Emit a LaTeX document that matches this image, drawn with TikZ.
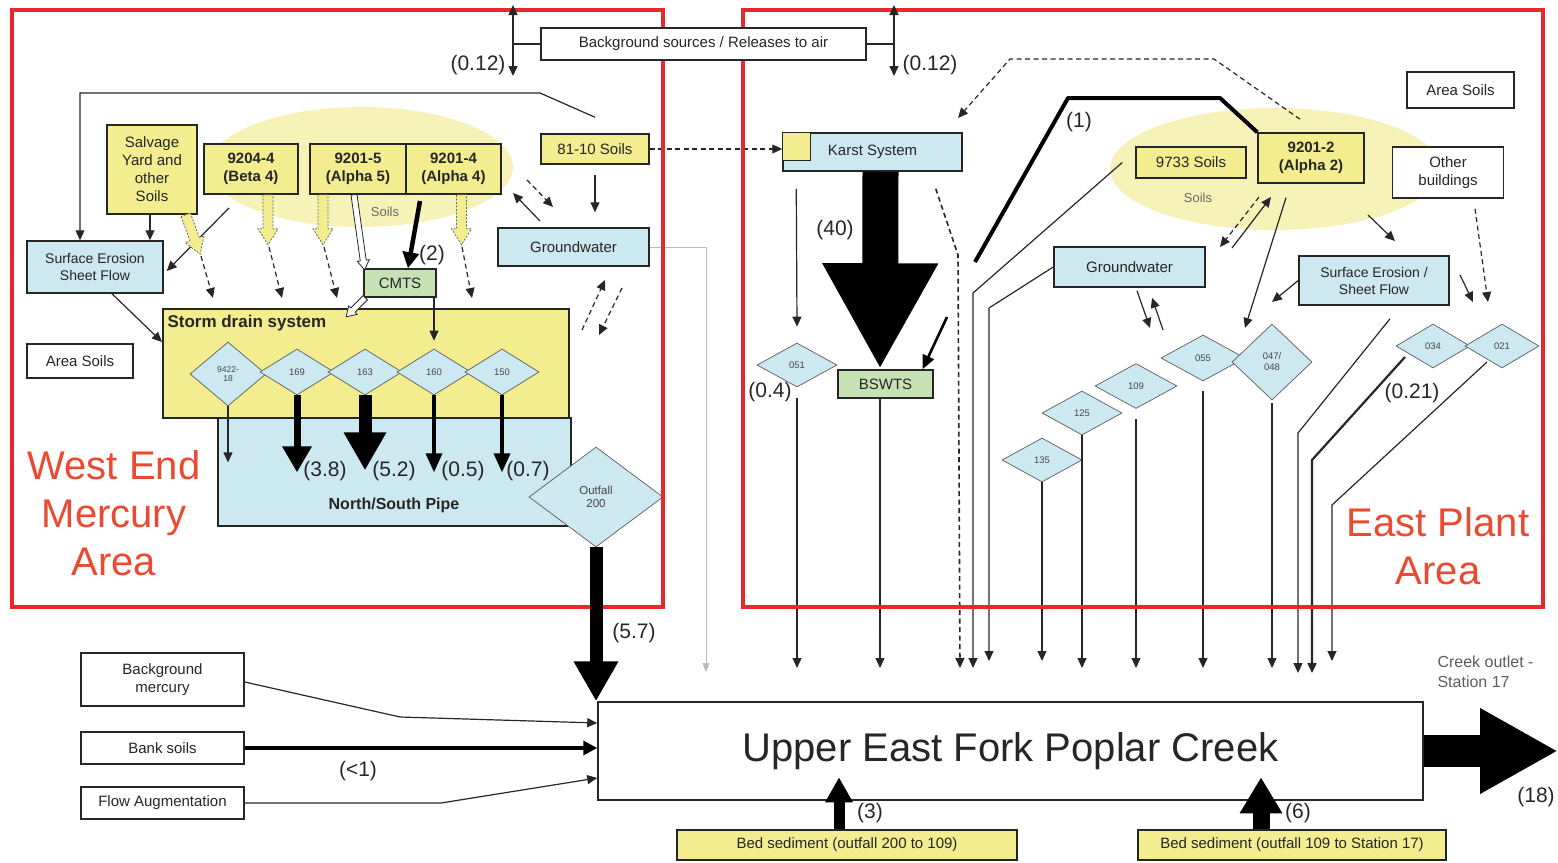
\documentclass[tikz,border=0pt]{standalone}
\usepackage{fontspec}
\setmainfont{Liberation Sans}
\usetikzlibrary{arrows.meta,shapes.geometric}

\definecolor{boxyellow}{HTML}{F3ED8F}
\definecolor{soilyellow}{HTML}{F7F3B8}
\definecolor{waterblue}{HTML}{CCE8F0}
\definecolor{plantgreen}{HTML}{C6E2B4}
\definecolor{framered}{HTML}{E8282B}
\definecolor{areared}{HTML}{EA4A30}
\definecolor{ink}{HTML}{262626}

\newcommand{\fz}[2]{\fontsize{#1}{#2}\selectfont}
% block arrow: style, start point, rotation, length, half shaft width, half head width
\newcommand{\fatarrow}[6]{%
  \begin{scope}[shift={#2},rotate=#3]
    \path[#1] (-#5,0) -- (-#5,{#4-1.6*#6}) -- (-#6,{#4-1.6*#6}) -- (0,#4)
      -- (#6,{#4-1.6*#6}) -- (#5,{#4-1.6*#6}) -- (#5,0) -- cycle;
  \end{scope}}

\tikzset{
  box/.style={draw=ink, line width=1.5pt, inner sep=2pt, align=center, text=ink, font=\fz{15}{18}},
  ybox/.style={box, fill=boxyellow},
  bbox/.style={box, fill=waterblue},
  gbox/.style={box, fill=plantgreen},
  wbox/.style={box, fill=white},
  heavy/.style={font=\bfseries\fz{15}{18}},
  outfall/.style={diamond, draw=ink!75, line width=0.7pt, fill=waterblue, inner sep=0pt,
    align=center, text=ink!85, font=\fz{9.5}{11}},
  flux/.style={text=ink, font=\fz{21}{24}, inner sep=1pt},
  ln/.style={draw=ink, line width=1.2pt},
  ar/.style={ln, -{Triangle[length=10pt,width=9pt]}},
  dar/.style={ar, dash pattern=on 5pt off 3.5pt},
  bulk/.style={draw=black},
  yfat/.style={fill=boxyellow, draw=ink!70, line width=0.8pt, dash pattern=on 2pt off 1.5pt},
  wfat/.style={fill=white, draw=ink, line width=0.8pt},
  areaname/.style={text=areared, font=\fz{40}{48}, align=center},
  frame/.style={draw=framered, line width=4pt},
}

\begin{document}
\begin{tikzpicture}[x=1pt,y=-1pt]
\useasboundingbox (0,0) rectangle (1558,862);

% soil zones
\fill[soilyellow] (361,167) ellipse [x radius=152pt, y radius=60pt];
\fill[soilyellow] (1275,169) ellipse [x radius=165pt, y radius=61pt];
\node[text=ink!70, font=\fz{13}{15}] (soilW) at (385,212) {Soils};
\node[text=ink!70, font=\fz{13}{15}] (soilE) at (1198,198) {Soils};

% ---------------- West End ----------------
\node[ybox, minimum width=90pt, minimum height=89pt] (salv) at (152,169.5) {Salvage\\Yard and\\other\\Soils};
\node[ybox, heavy, minimum width=94pt, minimum height=50pt] (b4) at (251,169) {9204-4\\(Beta 4)};
\node[ybox, heavy, minimum width=96pt, minimum height=50pt] (a5) at (358,169) {9201-5\\(Alpha 5)};
\node[ybox, heavy, minimum width=95pt, minimum height=50pt] (a4) at (453.5,169) {9201-4\\(Alpha 4)};
\node[ybox, minimum width=108pt, minimum height=30pt] (s8110) at (595,149) {81-10 Soils};
\node[bbox, minimum width=151pt, minimum height=38pt] (gwW) at (573.5,247) {Groundwater};
\node[bbox, font=\fz{14}{17}, minimum width=136pt, minimum height=52pt] (seW) at (95,267) {Surface Erosion\\Sheet Flow};
\node[wbox, minimum width=106pt, minimum height=34pt] (asW) at (80,361) {Area Soils};
\node[gbox, minimum width=72pt, minimum height=28pt] (cmts) at (400,283) {CMTS};
\node[bbox, anchor=north west, minimum width=353pt, minimum height=108pt] (pipe) at (217,417) {};
\node[ybox, anchor=north west, minimum width=406pt, minimum height=109pt] (drain) at (162,308) {};
\node[anchor=west, text=ink, font=\bfseries\fz{17}{20}] (drainlab) at (164,323) {Storm drain system};
\node[text=ink, font=\bfseries\fz{16}{19}] (pipelab) at (394,505) {North/South Pipe};

\node[outfall, minimum width=76pt, minimum height=64pt, font=\fz{8.5}{9.5}] (d9422) at (228,374) {9422-\\18};
\node[outfall, minimum width=74pt, minimum height=46pt] (d169) at (297,372) {169};
\node[outfall, minimum width=74pt, minimum height=46pt] (d163) at (365,372) {163};
\node[outfall, minimum width=74pt, minimum height=46pt] (d160) at (434,372) {160};
\node[outfall, minimum width=74pt, minimum height=46pt] (d150) at (502,372) {150};
\node[outfall, minimum width=134pt, minimum height=100pt, font=\fz{11.5}{13}] (out200) at (596,497) {Outfall\\200};

% ---------------- East Plant ----------------
\node[bbox, minimum width=179pt, minimum height=38pt] (karst) at (872.5,152) {Karst System};
\node[ybox, line width=1pt, anchor=north west, minimum width=28pt, minimum height=28pt] (ksq) at (karst.north west) {};
\node[gbox, minimum width=95pt, minimum height=28pt] (bsw) at (885.5,384) {BSWTS};
\node[ybox, minimum width=110pt, minimum height=31pt] (s9733) at (1191,162.5) {9733 Soils};
\node[ybox, heavy, minimum width=106pt, minimum height=50pt] (a2) at (1311,158) {9201-2\\(Alpha 2)};
\node[wbox, minimum width=111pt, minimum height=51pt] (oth) at (1448,172.5) {Other\\buildings};
\node[wbox, minimum width=107pt, minimum height=36pt] (asE) at (1460.5,90) {Area Soils};
\node[bbox, minimum width=151pt, minimum height=40pt] (gwE) at (1129.5,267) {Groundwater};
\node[bbox, font=\fz{14}{17}, minimum width=150pt, minimum height=49pt] (seE) at (1374,280.5) {Surface Erosion /\\Sheet Flow};

\node[outfall, minimum width=80pt, minimum height=44pt] (d051) at (797,365) {051};
\node[outfall, minimum width=80pt, minimum height=44pt] (d135) at (1042,460) {135};
\node[outfall, minimum width=80pt, minimum height=44pt] (d125) at (1082,413) {125};
\node[outfall, minimum width=82pt, minimum height=45pt] (d109) at (1136,386) {109};
\node[outfall, minimum width=84pt, minimum height=46pt] (d055) at (1203,358) {055};
\node[outfall, minimum width=80pt, minimum height=76pt] (d047) at (1272,362) {047/\\048};
\node[outfall, minimum width=74pt, minimum height=44pt] (d034) at (1433,346) {034};
\node[outfall, minimum width=74pt, minimum height=44pt] (d021) at (1502,346) {021};

% karst discharge to the treatment system
\draw[bulk, line width=36pt, -{Triangle[length=106pt,width=108pt]}] ([xshift=8pt]karst.south) -- ([xshift=-5.5pt]bsw.north);

% ---------------- creek and outside sources ----------------
\node[wbox, font=\fz{40}{46}, minimum width=825pt, minimum height=98pt] (creek) at (1010.5,751) {Upper East Fork Poplar Creek};
\node[wbox, minimum width=163pt, minimum height=53pt] (bgm) at (162.5,679.5) {Background\\mercury};
\node[wbox, minimum width=163pt, minimum height=32pt] (bank) at (162.5,748) {Bank soils};
\node[wbox, minimum width=163pt, minimum height=32pt] (flow) at (162.5,803) {Flow Augmentation};
\node[ybox, minimum width=340pt, minimum height=30pt] (bed1) at (847,845) {Bed sediment (outfall 200 to 109)};
\node[ybox, minimum width=308pt, minimum height=30pt] (bed2) at (1292,845) {Bed sediment (outfall 109 to Station 17)};

\coordinate (tipA) at (0,668);
\coordinate (tipC) at (0,661);

% ---------------- west connectors ----------------
\draw[ar] ([yshift=16pt]s8110.north) -- (540,93) -- (80,93) -- ([xshift=-15pt]seW.north);
\draw[ar] ([xshift=-2pt]salv.south) -- ([xshift=55pt]seW.north);
\draw[ar] (229,208) -- ([shift={(3pt,-4pt)}]seW.east);
\draw[ar] ([xshift=17pt]seW.south) -- ([yshift=-34pt]drain.north west);

\fatarrow{yfat}{([xshift=-12pt]salv.south east)}{20}{42}{5}{10}
\fatarrow{yfat}{([xshift=17pt]b4.south)}{0}{50}{5}{10}
\fatarrow{yfat}{([xshift=-35pt]a5.south)}{0}{50}{5}{10}
\fatarrow{yfat}{([xshift=8pt]a4.south)}{0}{50}{5}{10}
\draw[dar] (201,256) -- (213,298);
\draw[dar] (269,247) -- (282,298);
\draw[dar] (324,247) -- (337,298);
\draw[dar] (462,247) -- (472,298);

\fatarrow{wfat}{([xshift=-4pt]a5.south)}{8}{76}{3}{6}
\fatarrow{wfat}{([xshift=2pt]cmts.south west)}{-45}{27}{3}{6}
\draw[bulk, line width=4.5pt, -{Triangle[length=16pt,width=16pt]}] (420,201) -- ([xshift=8pt]cmts.north);
\draw[ar] ([xshift=34pt]cmts.south) -- ([yshift=8pt]d160.north);

\draw[ar] ([yshift=-10pt]s8110.south) -- ([shift={(21.5pt,15pt)}]gwW.north);
\draw[dar] (527,180) -- (553,207);
\draw[ar] (540,221) -- (513,193);
\draw[dar] (582,330) -- (605,280);
\draw[dar] (622,288) -- (599,335);
\draw[draw=gray!55, line width=0.6pt, -{Triangle[length=9pt,width=7pt]}] (gwW.east) -- (706,247) -- (706,672);

\draw[ar] (d9422.south) -- ([yshift=-56pt]d9422.south);
\draw[bulk, line width=7pt, -{Triangle[length=26pt,width=28pt]}] (d169.south) -- ([yshift=-77pt]d169.south);
\draw[bulk, line width=13pt, -{Triangle[length=38pt,width=40pt]}] (d163.south) -- ([yshift=-75pt]d163.south);
\draw[bulk, line width=3.5pt, -{Triangle[length=19pt,width=16pt]}] (d160.south) -- ([yshift=-77pt]d160.south);
\draw[bulk, line width=3.5pt, -{Triangle[length=19pt,width=16pt]}] (d150.south) -- ([yshift=-77pt]d150.south);

\draw[dar] (s8110.east) -- (karst.west |- s8110.east);

% ---------------- east connectors ----------------
\draw[ar] ([shift={(14pt,-17pt)}]karst.south west) -- ([yshift=16pt]d051.north);
\draw[ar] ([yshift=-11pt]d051.south) -- (d051.south |- tipA);
\draw[bulk, line width=2.6pt, -{Triangle[length=14pt,width=12pt]}] (947,317) -- ([xshift=37pt]bsw.north);
\draw[ar] ([xshift=-5.5pt]bsw.south) -- ([xshift=-5.5pt]bsw.south |- tipA);
\draw[dar, line width=1.6pt] ([shift={(-27pt,-17pt)}]karst.south east) -- (958,255) -- (960,668);
\draw[ar] ([xshift=-13pt]s9733.west) -- (973,293) -- (973,668);
\draw[ar] (gwE.west) -- (989,308) -- (989,661);
\draw[bulk, line width=4pt, line join=round] (975,262) -- (1068,98) -- (1220,98) -- (a2.north west);
\draw[dar] ([shift={(-11pt,13pt)}]a2.north) -- (1214,59) -- (1010,59) -- (958,118);

\draw[ar] ([shift={(7.5pt,-3pt)}]gwE.south) -- (1150,328);
\draw[ar] (1163,330) -- ([shift={(22.5pt,-10pt)}]gwE.south);
\draw[dar] (1259,197) -- (1220,247);
\draw[ar] (1232,248) -- (1271,197);
\draw[ar] ([shift={(-25pt,-14pt)}]a2.south) -- (1245,328);
\draw[ar] (1368,215) -- (1395,241);
\draw[ar] (seE.west) -- (1272,302);
\draw[ar] (1460,275) -- (1473,302);
\draw[dar] ([shift={(27pt,-10pt)}]oth.south) -- (1488,302);

\draw[ar] (d135.south) -- (d135.south |- tipC);
\draw[ar] (d125.south) -- (d125.south |- tipA);
\draw[ar] ([yshift=-10pt]d109.south) -- (d109.south |- tipA);
\draw[ar] ([yshift=-10pt]d055.south) -- (d055.south |- tipA);
\draw[ar] ([yshift=-3pt]d047.south) -- (d047.south |- tipA);
\draw[ar] ([shift={(16pt,-13pt)}]seE.south) -- (1298,433) -- (1298,673);
\draw[ar, line width=2.2pt] (1405,357) -- (1312,460) -- (1312,673);
\draw[ar] (1487,362) -- (1332,505) -- (1332,661);

% ---------------- area frames ----------------
\draw[frame] (12,10) rectangle (663,607);
\draw[frame] (743,10) rectangle (1543,607);
\node[areaname] (westname) at (114,513) {West End\\Mercury\\Area};
\node[areaname] (eastname) at (1438,546) {East Plant\\Area};

% ---------------- creek inputs ----------------
\draw[bulk, line width=13pt, -{Triangle[length=40pt,width=42pt]}] (out200.south) -- (out200.south |- creek.north);
\draw[ar] ([yshift=-2.5pt]bgm.east) -- (400,717) -- ([yshift=28pt]creek.west);
\draw[bulk, line width=4pt, -{Triangle[length=14pt,width=14pt]}] (bank.east) -- (creek.west |- bank.east);
\draw[ar] (flow.east) -- (441,803) -- ([yshift=-27pt]creek.west);
\draw[bulk, line width=11pt, -{Triangle[length=25pt,width=26pt]}] ([xshift=-8pt]bed1.north) -- ([shift={(-8pt,52pt)}]bed1.north);
\draw[bulk, line width=17pt, -{Triangle[length=36pt,width=40pt]}] ([xshift=-31pt]bed2.north) -- ([shift={(-31pt,52pt)}]bed2.north);
\coordinate (outlet) at (1558,751);
\draw[bulk, line width=32pt, -{Triangle[length=78pt,width=80pt]}] (creek.east) -- (outlet);
\node[anchor=west, align=left, text=ink!75, font=\fz{16}{20}] (outletlab) at (1434,672) {Creek outlet -\\Station 17};

% ---------------- releases to air ----------------
\node[wbox, minimum width=325pt, minimum height=32pt] (bg) at (703.5,44) {Background sources / Releases to air};
\coordinate (airW) at (513,44);
\coordinate (airE) at (894,44);
\draw[ln, line width=2.2pt] (bg.west) -- (airW);
\draw[ln, line width=2.2pt] (bg.east) -- (airE);
\draw[ar, line width=1.6pt] (airW) -- (513,5);
\draw[ar, line width=1.6pt] (airW) -- (513,76);
\draw[ar, line width=1.6pt] (airE) -- (894,5);
\draw[ar, line width=1.6pt] (airE) -- (894,76);

% ---------------- flux values ----------------
\node[flux] at (478,65) {(0.12)};
\node[flux] at (930,65) {(0.12)};
\node[flux] at (432,255) {(2)};
\node[flux] at (325,471) {(3.8)};
\node[flux] at (394,471) {(5.2)};
\node[flux] at (463,471) {(0.5)};
\node[flux] at (528,471) {(0.7)};
\node[flux] at (634,633) {(5.7)};
\node[flux] at (835,230) {(40)};
\node[flux] at (770,392) {(0.4)};
\node[flux] at (1079,122) {(1)};
\node[flux] at (1412,393) {(0.21)};
\node[flux] at (358,771) {(<1)};
\node[flux] at (870,813) {(3)};
\node[flux] at (1298,813) {(6)};
\node[flux] at (1536,797) {(18)};
\end{tikzpicture}
\end{document}
